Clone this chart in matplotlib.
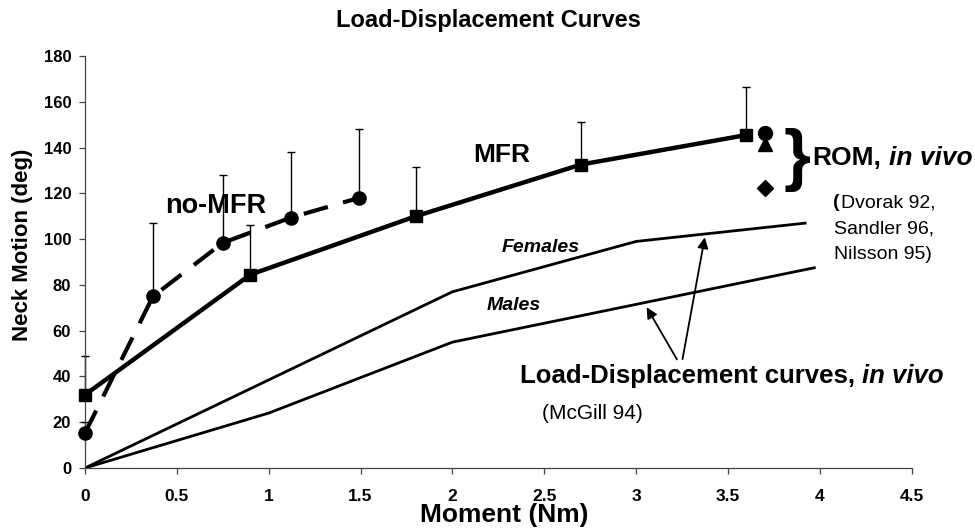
import numpy as np
import matplotlib
matplotlib.use("Agg")
import matplotlib.pyplot as plt
from matplotlib.transforms import offset_copy

plt.rcParams['font.family'] = ['Liberation Sans', 'DejaVu Sans']

# MFR (squares, solid)
mfr_x = [0, 0.9, 1.8, 2.7, 3.6]
mfr_y = [32, 84.5, 110, 132.6, 145.5]
mfr_top = [49, 106, 131.7, 151, 166.5]

# no-MFR (circles, dashed)
nomfr_x = [0, 0.37, 0.75, 1.12, 1.49]
nomfr_y = [15.3, 75, 98.4, 109.4, 118]
nomfr_top = [20, 107, 128, 138, 148]

# McGill 94 load-displacement curves
fem_x = [0, 1, 2, 3, 3.92]
fem_y = [0, 38.5, 77, 99, 107]
male_x = [0, 1, 2, 3, 3.97]
male_y = [0, 24, 55, 71.5, 87.5]

# ROM in vivo
rom_x = [3.70, 3.70, 3.70]
rom_y = [146.5, 141.5, 122.5]
rom_marker = ['o', '^', 'D']

fig = plt.figure(figsize=(9.75, 5.29), dpi=100)
ax = fig.add_axes([0.0872, 0.1153, 0.8478, 0.7787])
renderer = fig.canvas.get_renderer()


def runs(x, y, parts, size, gap=0.0):
    # draw text pieces one after another on a shared baseline
    dx = 0.0
    for s, style in parts:
        tr = offset_copy(ax.transData, fig=fig, x=dx, y=0, units='dots')
        t = ax.text(x, y, s, fontsize=size, fontweight='bold', style=style,
                    ha='left', va='baseline', transform=tr, clip_on=False)
        dx += t.get_window_extent(renderer).width + gap * size


ax.plot(fem_x, fem_y, color='black', lw=2)
ax.plot(male_x, male_y, color='black', lw=2)

ax.errorbar(mfr_x, mfr_y,
            yerr=[np.zeros(len(mfr_y)), np.array(mfr_top) - np.array(mfr_y)],
            fmt='none', ecolor='black', elinewidth=1, capsize=3, capthick=1,
            clip_on=False)
ax.plot(mfr_x, mfr_y, color='black', lw=3.2, marker='s', ms=9, clip_on=False, zorder=5)

ax.errorbar(nomfr_x, nomfr_y,
            yerr=[np.zeros(len(nomfr_y)), np.array(nomfr_top) - np.array(nomfr_y)],
            fmt='none', ecolor='black', elinewidth=1, capsize=3, capthick=1,
            clip_on=False)
ax.plot(nomfr_x, nomfr_y, color='black', lw=3, marker='o', ms=9.5,
        dashes=(6, 3.8), clip_on=False, zorder=5)

for x, y, m in zip(rom_x, rom_y, rom_marker):
    ax.plot(x, y, marker=m, color='black', ms=10 if m != 'D' else 8, zorder=6,
            clip_on=False)

ax.set_xlim(0, 4.5)
ax.set_ylim(0, 180)
ax.set_xticks([0, 0.5, 1, 1.5, 2, 2.5, 3, 3.5, 4, 4.5])
ax.set_xticklabels(['0', '0.5', '1', '1.5', '2', '2.5', '3', '3.5', '4', '4.5'])
ax.set_yticks(np.arange(0, 181, 20))
for s in ['top', 'right']:
    ax.spines[s].set_visible(False)
for s in ['left', 'bottom']:
    ax.spines[s].set_color('#444444')
    ax.spines[s].set_linewidth(0.9)
ax.tick_params(axis='both', colors='#444444', labelcolor='black', length=4, width=0.9)
ax.tick_params(axis='x', pad=11)
ax.tick_params(axis='y', pad=6)
for lab in ax.get_xticklabels():
    lab.set_fontweight('bold')
    lab.set_fontsize(12.5)
for lab in ax.get_yticklabels():
    lab.set_fontweight('bold')
    lab.set_fontsize(12)

fig.text(504 / 975, 1 - 515 / 529, 'Moment (Nm)', fontsize=19, fontweight='bold',
         ha='center', va='center')
fig.text(23 / 975, 1 - 245 / 529, 'Neck Motion (deg)', fontsize=16, fontweight='bold',
         ha='center', va='center', rotation=90)
fig.text(488 / 975, 1 - 20 / 529, 'Load-Displacement Curves', fontsize=17,
         fontweight='bold', ha='center', va='center')

# labels inside the plot
runs(2.115, 133.9, [('MFR', 'normal')], 19)
runs(0.437, 111.6, [('no-MFR', 'normal')], 19.5)
runs(2.27, 94.5, [('Females', 'italic')], 14)
runs(2.186, 69.1, [('Males', 'italic')], 14)

ax.text(3.80, 134.8, '}', fontsize=50, fontweight='bold', ha='left', va='center',
        clip_on=False)
runs(3.96, 132.6, [('ROM,', 'normal'), ('in vivo', 'italic')], 19, gap=0.38)

tr_par = ax.text(4.071, 114.0, '(', fontsize=14, fontweight='bold', ha='left',
                 va='baseline', clip_on=False)
ax.text(4.115, 114.0, 'Dvorak 92,', fontsize=14, ha='left', va='baseline', clip_on=False)
ax.text(4.077, 102.6, 'Sandler 96,', fontsize=14, ha='left', va='baseline', clip_on=False)
ax.text(4.077, 91.3, 'Nilsson 95)', fontsize=14, ha='left', va='baseline', clip_on=False)

runs(2.37, 37.2, [('Load-Displacement curves,', 'normal'), ('in vivo', 'italic')],
     18.5, gap=0.38)
ax.text(2.486, 21.4, '(McGill 94)', fontsize=15, ha='left', va='baseline')

ax.annotate('', xy=(3.377, 102), xytext=(3.25, 46.4),
            arrowprops=dict(arrowstyle='-|>', color='black', lw=1.3, mutation_scale=16))
ax.annotate('', xy=(3.05, 71.3), xytext=(3.23, 46.4),
            arrowprops=dict(arrowstyle='-|>', color='black', lw=1.3, mutation_scale=16))

fig.savefig('out.png', dpi=100)
